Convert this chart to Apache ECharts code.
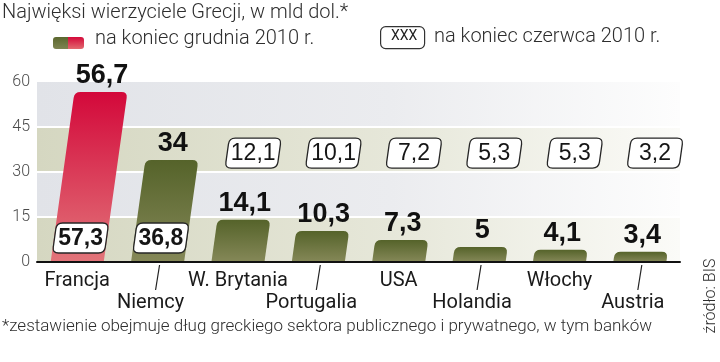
<!DOCTYPE html>
<html>
<head>
<meta charset="utf-8">
<script src="https://cdn.jsdelivr.net/npm/echarts@6/dist/echarts.min.js"></script>
<style>
html,body{margin:0;padding:0;background:#fff;}
#c{width:720px;height:362px;}
</style>
</head>
<body>
<div id="c"></div>
<script>
const categories = ['Francja', 'Niemcy', 'W. Brytania', 'Portugalia', 'USA', 'Holandia', 'Włochy', 'Austria'];
const dec2010 = [56.7, 34, 14.1, 10.3, 7.3, 5, 4.1, 3.4];
const jun2010 = [57.3, 36.8, 12.1, 10.1, 7.2, 5.3, 5.3, 3.2];
const yTicks = [0, 15, 30, 45, 60];

const SLOPE = 0.14;
const NARROW = '"Liberation Sans Narrow", "Arial Narrow", sans-serif';
const LIGHT = 'Roboto, "Noto Sans", sans-serif';

function fmt(v) { return String(v).replace('.', ','); }

function roundedPoly(pts, radii) {
  const n = pts.length;
  let d = '';
  for (let k = 0; k < n; k++) {
    const P = pts[k], A = pts[(k - 1 + n) % n], B = pts[(k + 1) % n], r = radii[k];
    const la = Math.hypot(A[0] - P[0], A[1] - P[1]);
    const lb = Math.hypot(B[0] - P[0], B[1] - P[1]);
    const p1 = [P[0] + (A[0] - P[0]) / la * r, P[1] + (A[1] - P[1]) / la * r];
    const p2 = [P[0] + (B[0] - P[0]) / lb * r, P[1] + (B[1] - P[1]) / lb * r];
    d += (k === 0 ? 'M' : 'L') + p1[0].toFixed(2) + ' ' + p1[1].toFixed(2) +
      ' Q' + P[0].toFixed(2) + ' ' + P[1].toFixed(2) + ' ' + p2[0].toFixed(2) + ' ' + p2[1].toFixed(2) + ' ';
  }
  return d + 'Z';
}

// parallelogram: bottom-left x, bottom y, width, height
function slanted(xl, yb, w, h, rTop, rBot) {
  const s = SLOPE * h;
  const pts = [[xl, yb], [xl + s, yb - h], [xl + w + s, yb - h], [xl + w, yb]];
  return roundedPoly(pts, [rBot, rTop, rTop, rBot]);
}

const chart = echarts.init(document.getElementById('c'), null, {renderer: 'canvas'});

const bandColors = [
  ['#d5d7c1', '#e6e7d9', '#fbfbf8'],
  ['#e1e3e8', '#ebecef', '#fdfdfd'],
  ['#d5d7c1', '#e6e7d9', '#fbfbf8'],
  ['#e1e3e8', '#ebecef', '#fdfdfd']
];
const bands = [];
for (let k = 0; k < yTicks.length - 1; k++) bands.push([yTicks[k], yTicks[k + 1], k]);

const option = {
  animation: false,
  backgroundColor: '#ffffff',
  grid: {left: 37, top: 82, width: 643, height: 180},
  xAxis: {
    type: 'category',
    data: categories,
    axisLine: {show: true, lineStyle: {color: '#111', width: 2}},
    axisTick: {show: false},
    axisLabel: {
      interval: 0,
      margin: 8,
      lineHeight: 22,
      formatter: function (v, i) { return i % 2 ? '\n{o|' + v + '}' : '{e|' + v + '}'; },
      rich: {
        e: {fontSize: 20, fontFamily: LIGHT, color: '#1a1a1a', lineHeight: 22},
        o: {fontSize: 20, fontFamily: LIGHT, color: '#1a1a1a', lineHeight: 22, padding: [0, 14, 0, 0]}
      }
    },
    z: 5
  },
  yAxis: {
    type: 'value',
    min: 0, max: 60, interval: 15,
    axisLine: {show: false},
    axisTick: {show: false},
    splitLine: {show: false},
    axisLabel: {margin: 7, fontSize: 16, fontFamily: LIGHT, fontWeight: 300, color: '#4a4a4a'}
  },
  graphic: [
    {type: 'text', left: 2, top: 3, style: {text: 'Najwięksi wierzyciele Grecji, w mld dol.*', font: '300 20px ' + LIGHT, fill: '#2e2e2e'}},
    {type: 'rect', left: 53, top: 37, shape: {width: 16, height: 12, r: [3, 0, 0, 3]},
      style: {fill: new echarts.graphic.LinearGradient(0, 0, 0, 1, [{offset: 0, color: '#5b672e'}, {offset: 1, color: '#7e8452'}])}},
    {type: 'rect', left: 68, top: 37, shape: {width: 16, height: 12, r: [0, 3, 3, 0]},
      style: {fill: new echarts.graphic.LinearGradient(0, 0, 0, 1, [{offset: 0, color: '#d40a3a'}, {offset: 1, color: '#e26a70'}])}},
    {type: 'text', left: 95, top: 29, style: {text: 'na koniec grudnia 2010 r.', font: '300 20px ' + LIGHT, fill: '#2e2e2e'}},
    {type: 'rect', left: 380, top: 26, shape: {width: 44, height: 22, r: 5},
      style: {fill: '#fff', stroke: '#333', lineWidth: 1.2}},
    {type: 'text', left: 391, top: 29, style: {text: 'XXX', font: '14px ' + LIGHT, fill: '#222'}},
    {type: 'text', left: 434, top: 27, style: {text: 'na koniec czerwca 2010 r.', font: '300 20px ' + LIGHT, fill: '#2e2e2e'}},
    {type: 'text', left: 2, top: 318, style: {text: '*zestawienie obejmuje dług greckiego sektora publicznego i prywatnego, w tym banków', font: '300 17px ' + LIGHT, fill: '#2e2e2e'}},
    {type: 'text', x: 711, y: 296, rotation: Math.PI / 2,
      style: {text: 'źródło: BIS', font: '300 16px ' + LIGHT, fill: '#2e2e2e', align: 'center', verticalAlign: 'middle'}}
  ],
  series: [
    {
      type: 'custom',
      name: 'bands',
      z: 1,
      silent: true,
      data: bands,
      renderItem: function (params, api) {
        const cs = params.coordSys;
        const lo = api.value(0), hi = api.value(1), k = api.value(2);
        const y0 = api.coord([0, lo])[1];
        const y1 = api.coord([0, hi])[1];
        const c = bandColors[k];
        const children = [{
          type: 'rect',
          shape: {x: cs.x, y: y1, width: cs.width, height: y0 - y1},
          style: {fill: new echarts.graphic.LinearGradient(0, 0, 1, 0, [
            {offset: 0, color: c[0]}, {offset: 0.55, color: c[1]}, {offset: 1, color: c[2]}])}
        }];
        if (lo > 0) {
          children.push({type: 'line', shape: {x1: cs.x, y1: y0, x2: cs.x + cs.width, y2: y0},
            style: {stroke: '#ffffff', lineWidth: 2}});
        }
        return {type: 'group', children: children};
      }
    },
    {
      type: 'custom',
      name: 'grudzień 2010',
      z: 3,
      silent: true,
      data: dec2010.map(function (v, i) { return [i, v, jun2010[i]]; }),
      renderItem: function (params, api) {
        const i = api.value(0), v = api.value(1), j = api.value(2);
        const base = api.coord([i, 0]);
        const top = api.coord([i, v]);
        const bw = api.size([1, 0])[0] * 0.66;
        const h = base[1] - top[1];
        const isRed = i === 0;
        const grad = isRed
          ? new echarts.graphic.LinearGradient(0, 0, 0, 1, [{offset: 0, color: '#d3083a'}, {offset: 1, color: '#e2757a'}])
          : new echarts.graphic.LinearGradient(0, 0, 0, 1, [{offset: 0, color: '#55632a'}, {offset: 1, color: '#858858'}]);
        const children = [];
        children.push({
          type: 'path',
          shape: {pathData: slanted(base[0] - bw / 2, base[1], bw, h, 6, 0)},
          style: {fill: grad}
        });
        const topCx = base[0] + SLOPE * h;
        children.push({
          type: 'text',
          style: {text: fmt(v), x: topCx + 1, y: top[1] - 3, align: 'center', verticalAlign: 'bottom',
            font: 'bold 27px ' + NARROW, fill: '#111'}
        });
        // June value box
        const boxVal = v > 30 ? 8 : 36.3;
        const bc = api.coord([i, boxVal]);
        const bh = 30, bwid = 52;
        const xc = base[0] + SLOPE * (base[1] - bc[1]);
        const sBox = SLOPE * bh;
        children.push({
          type: 'path',
          shape: {pathData: slanted(xc - bwid / 2 - sBox / 2, bc[1] + bh / 2, bwid, bh, 6, 6)},
          style: {fill: '#ffffff', stroke: '#262626', lineWidth: 1.3}
        });
        children.push({
          type: 'text',
          style: {text: fmt(j), x: xc, y: bc[1] + 1, align: 'center', verticalAlign: 'middle',
            font: (v > 30 ? 'bold ' : '') + '23px ' + NARROW, fill: '#151515'}
        });
        if (i % 2 === 1) {
          children.push({
            type: 'line',
            shape: {x1: base[0] + 2, y1: base[1] + 3, x2: base[0] - 2, y2: base[1] + 28},
            style: {stroke: '#222', lineWidth: 1.2}
          });
        }
        return {type: 'group', children: children};
      }
    }
  ]
};
chart.setOption(option);
</script>
</body>
</html>
